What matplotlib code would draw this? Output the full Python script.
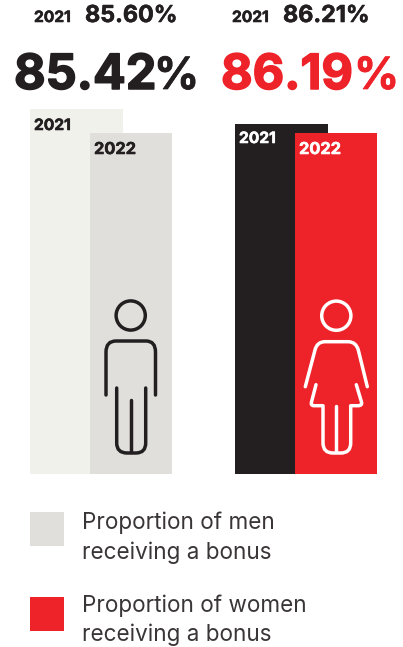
import matplotlib
matplotlib.use("Agg")
import matplotlib.pyplot as plt
import matplotlib.patheffects as pe
from matplotlib.patches import Circle, PathPatch, Rectangle
from matplotlib.path import Path

plt.rcParams['font.family'] = ['Inter', 'DejaVu Sans']

years = ["2021", "2022"]
men_values = [85.60, 85.42]
women_values = [86.21, 86.19]
men_labels = ["85.60%", "85.42"]
women_labels = ["86.21%", "86.19"]
legend_labels = ["Proportion of men", "receiving a bonus", "Proportion of women", "receiving a bonus"]

INK = "#231f20"
RED = "#ee2229"
PALE = "#f1f1ec"
STONE = "#e1dfdb"
LEGEND_INK = "#3a3637"

W, H = 403, 647
BAR_BOTTOM = 474

# outline points for the pictograms, "c" marks a rounded corner control point
man_body = [(106, 395), (106, 352), ("c", 106, 341), (116, 341), (146, 341), ("c", 155.5, 341), (155.5, 352), (155.5, 395)]
man_legs = [(116.7, 388), (116.7, 443), ("c", 116.7, 453), (127, 453), (136, 453), ("c", 145.7, 453), (145.7, 443), (145.7, 388)]
man_mid = [(130.7, 400), (130.7, 452)]
woman_body = [(305.3, 386.7), (315, 350), ("c", 317, 341.7), (325, 341.7), (348, 341.7), ("c", 356, 341.7), (358.3, 350), (367.3, 386.7)]
woman_skirt = [(316, 384.7), (311.5, 402), ("c", 310.5, 405.7), (314, 405.7), (323, 405.7), (323, 443), ("c", 323, 453), (333, 453),
               (341, 453), ("c", 350.7, 453), (350.7, 443), (350.7, 405.7), (358, 405.7), ("c", 362.5, 405.7), (361.5, 402), (356.3, 384.7)]
woman_mid = [(336.3, 405.7), (336.3, 452)]


def px_axes(fig, x0, y0, x1, y1):
    return fig.add_axes([x0 / W, 1 - y1 / H, (x1 - x0) / W, (y1 - y0) / H])


def bar_panel(fig, x0, x1, top, ylim, values, colors):
    ax = px_axes(fig, x0, top, x1, BAR_BOTTOM)
    ax.bar([0, 60], values, width=[93, 82], align="edge", color=colors, linewidth=0)
    ax.set_xlim(0, x1 - x0)
    ax.set_ylim(*ylim)
    ax.axis("off")
    return ax


def outline(ax, pts, color, lw=2.5):
    verts, codes = [], []
    after_ctrl = False
    for p in pts:
        if p[0] == "c":
            verts.append(p[1:])
            codes.append(Path.CURVE3)
            after_ctrl = True
        else:
            verts.append(p)
            codes.append(Path.CURVE3 if after_ctrl else Path.LINETO)
            after_ctrl = False
    codes[0] = Path.MOVETO
    ax.add_patch(PathPatch(Path(verts, codes), fill=False, edgecolor=color, lw=lw, capstyle="round", joinstyle="round"))


def label(ax, x, y, text, size, color, thicken=0.0, weight="bold"):
    t = ax.text(x, y, text, fontsize=size, fontweight=weight, color=color)
    if thicken:
        # Inter tops out lighter than these headings, so fatten the glyphs a little
        t.set_path_effects([pe.withStroke(linewidth=thicken, foreground=color)])
    return t


fig = plt.figure(figsize=(W / 100, H / 100), dpi=100, facecolor="white")

# each group has its own truncated value axis
bar_panel(fig, 30, 172, 109, (82.862, men_values[0]), men_values, [PALE, STONE])
bar_panel(fig, 235, 377, 124, (85.432, women_values[0]), women_values, [INK, RED])

ov = px_axes(fig, 0, 0, W, H)
ov.set_xlim(0, W)
ov.set_ylim(H, 0)
ov.axis("off")

# previous year line above each headline figure
label(ov, 34, 22, years[0], 11.2, INK, 0.4)
label(ov, 85, 22, men_labels[0], 16.8, INK, 0.4)
label(ov, 232, 22, years[0], 11.2, INK, 0.4)
label(ov, 283, 22, women_labels[0], 16.8, INK, 0.4)

# headline figures
label(ov, 14, 89, men_labels[1], 35, INK, 1.1)
label(ov, 154, 89, "%", 32, INK, 0.5)
label(ov, 221, 89, women_labels[1], 35, RED, 1.1)
label(ov, 354, 89, "%", 32, RED, 0.5)

# year tags inside the bars
label(ov, 34, 130, years[0], 11.2, INK, 0.4)
label(ov, 94, 154, years[1], 11.8, INK, 0.4)
label(ov, 239, 143, years[0], 11.2, "white", 0.4)
label(ov, 299, 154, years[1], 11.8, "white", 0.4)

# man pictogram
ov.add_patch(Circle((130.7, 315.5), 14.6, fill=False, edgecolor=INK, lw=2.5))
for pts in (man_body, man_legs, man_mid):
    outline(ov, pts, INK)

# woman pictogram
ov.add_patch(Circle((336.3, 315.7), 14.6, fill=False, edgecolor="white", lw=2.5))
for pts in (woman_body, woman_skirt, woman_mid):
    outline(ov, pts, "white")

# legend
ov.add_patch(Rectangle((30, 512), 34, 34, facecolor=STONE, edgecolor="none"))
ov.add_patch(Rectangle((30, 597), 34, 34, facecolor=RED, edgecolor="none"))
for y, text in zip((529, 559, 612, 641), legend_labels):
    ov.text(82, y, text, fontsize=16.2, color=LEGEND_INK)

fig.savefig("out.png", dpi=100)
